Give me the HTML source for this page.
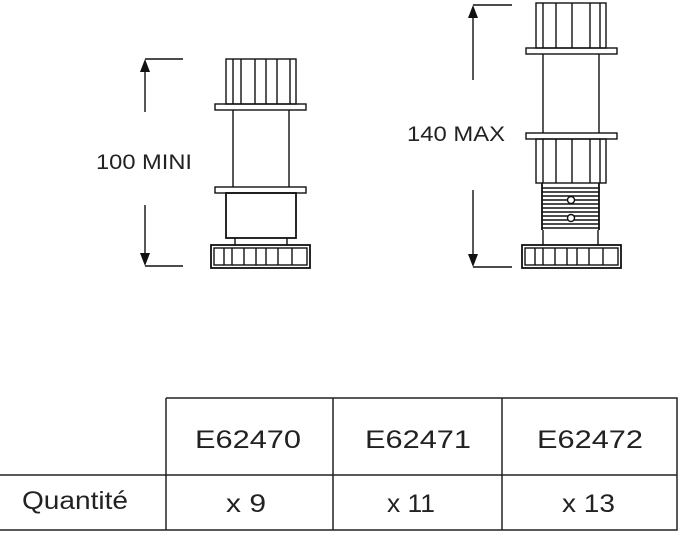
<!DOCTYPE html>
<html><head><style>
body{margin:0;background:#fff;width:679px;height:535px;overflow:hidden}
</style></head><body>
<svg width="679" height="535" xmlns="http://www.w3.org/2000/svg" font-family="Liberation Sans, sans-serif">
<g fill="none" stroke="#111" stroke-width="1.4">
<rect x="226" y="59" width="70" height="45"/>
<path d="M233 59V104M241 59V104M255 59V104M266 59V104M277 59V104M290 59V104"/>
<rect x="215" y="104" width="91" height="6"/>
<path d="M233 110V187M289 110V187"/>
<rect x="215" y="187" width="91" height="6"/>
<rect x="226" y="193" width="70" height="45" stroke-width="1.8"/>
<path d="M235 238V245M287 238V245"/>
<rect x="211" y="245" width="99" height="23" stroke-width="1.8"/>
<rect x="214" y="248" width="93" height="17"/>
<path d="M224 248V265M232 248V265M244 248V265M256 248V265M266 248V265M278 248V265M292 248V265"/>
<path d="M145 59H183M145 70V112M145 205V256M145 266H183"/>
<rect x="536" y="3" width="70" height="45"/>
<path d="M543 3V48M556 3V48M572 3V48M590 3V48M600 3V48"/>
<rect x="526" y="48" width="91" height="6"/>
<path d="M543 54V133M599 54V133"/>
<rect x="526" y="133" width="91" height="6"/>
<rect x="536" y="139" width="70" height="44"/>
<path d="M543 139V183M556 139V183M572 139V183M590 139V183M600 139V183"/>
<path d="M542 183V230M599 183V230" stroke-width="1.8"/>
<path d="M542 188H599M542 192H599M542 196H599M542 200H599M542 204H599M542 208H599M542 212H599M542 216H599M542 220H599M542 224H599M542 228H599"/>
<circle cx="571" cy="200" r="3.5" fill="#fff"/>
<circle cx="571" cy="218" r="3.5" fill="#fff"/>
<path d="M543 230V245M598 230V245"/>
<rect x="522" y="245" width="99" height="23" stroke-width="1.8"/>
<rect x="525" y="248" width="93" height="17"/>
<path d="M535 248V265M543 248V265M555 248V265M567 248V265M577 248V265M589 248V265M603 248V265"/>
<path d="M473 5H512M473 16V80M473 190V256M473 267H512"/>
</g>
<g fill="#111">
<path d="M145 59L140 72H150Z"/>
<path d="M145 266L140 253H150Z"/>
<path d="M473 5L468 18H478Z"/>
<path d="M473 267L468 254H478Z"/>
</g>
<g font-size="21" fill="#222">
<text x="96" y="169" textLength="96" lengthAdjust="spacingAndGlyphs">100 MINI</text>
<text x="407" y="141" textLength="98" lengthAdjust="spacingAndGlyphs">140 MAX</text>
</g>
<g fill="none" stroke="#222" stroke-width="1.5">
<path d="M166 398H677V530H0M0 475H677M166 398V530M333 398V530M502 398V530M677 398V530"/>
</g>
<g font-size="25" fill="#222">
<text x="195" y="448" textLength="106" lengthAdjust="spacingAndGlyphs">E62470</text>
<text x="365" y="448" textLength="106" lengthAdjust="spacingAndGlyphs">E62471</text>
<text x="537" y="448" textLength="106" lengthAdjust="spacingAndGlyphs">E62472</text>
<text x="226" y="512" textLength="40" lengthAdjust="spacingAndGlyphs">x 9</text>
<text x="387" y="512" textLength="48" lengthAdjust="spacingAndGlyphs">x 11</text>
<text x="562" y="512" textLength="53" lengthAdjust="spacingAndGlyphs">x 13</text>
<text x="22" y="509" textLength="106" lengthAdjust="spacingAndGlyphs">Quantité</text>
</g>
</svg>
</body></html>
